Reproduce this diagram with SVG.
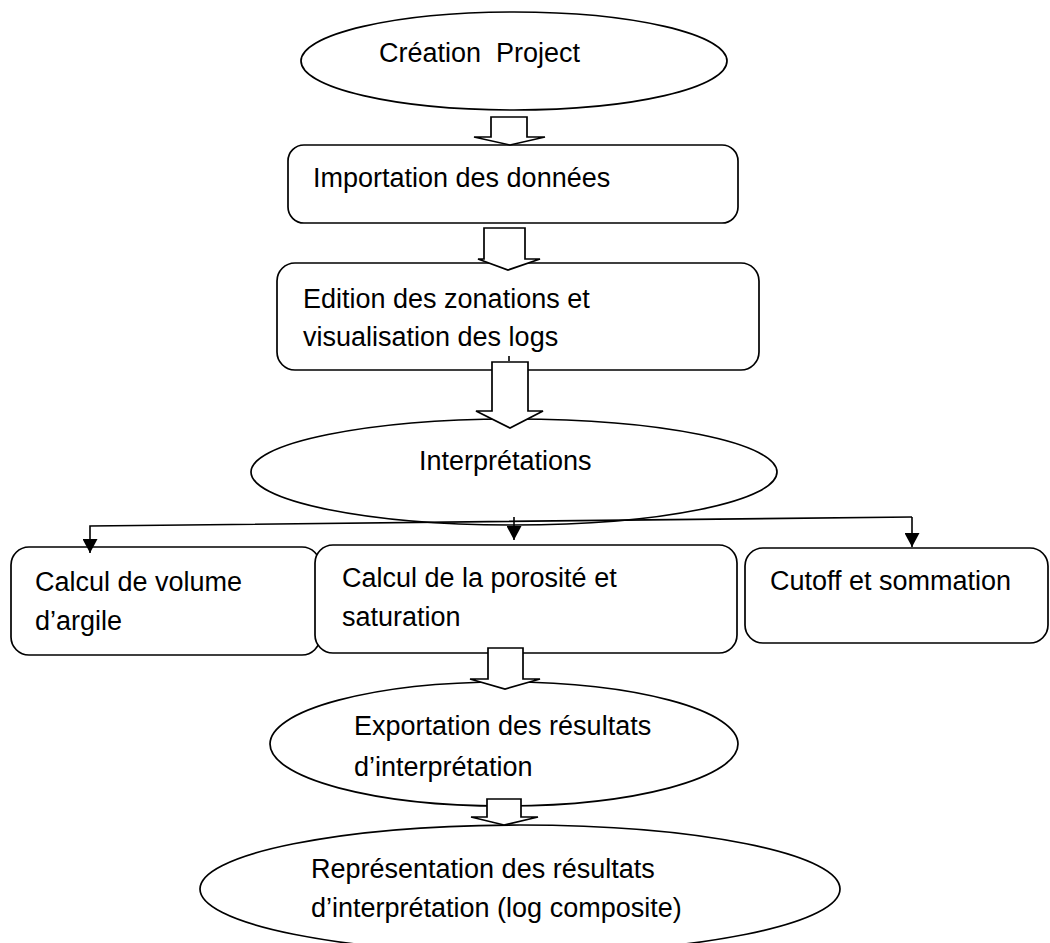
<svg xmlns="http://www.w3.org/2000/svg" width="1050" height="943" viewBox="0 0 1050 943">
<style>
.shape{fill:#fff;stroke:#000;stroke-width:1.7}
.blk{fill:#fff;stroke:#000;stroke-width:1.7;stroke-linejoin:miter}
.lbl{font-family:"Liberation Sans",Arial,sans-serif;font-size:27px;fill:#000;white-space:pre}
.con{fill:none;stroke:#000;stroke-width:1.6}
</style>
<defs>
<marker id="ah" viewBox="0 0 14 15" refX="14" refY="7.5" markerWidth="14" markerHeight="15" orient="auto" markerUnits="userSpaceOnUse">
<path d="M0,0 L14,7.5 L0,15 z" fill="#000"/>
</marker>
</defs>
<rect width="1050" height="943" fill="#fff"/>

<g id="n-creation">
<ellipse class="shape" cx="514" cy="61" rx="213" ry="49"/>
<text class="lbl" x="379" y="62">Création  Project</text>
</g>
<g id="n-importation">
<rect class="shape" x="288" y="145" width="450" height="78" rx="16"/>
<text class="lbl" x="313" y="187">Importation des données</text>
</g>
<g id="n-edition">
<rect class="shape" x="277" y="263" width="482" height="107" rx="18"/>
<text class="lbl" x="303" y="308">Edition des zonations et</text>
<text class="lbl" x="303" y="346">visualisation des logs</text>
</g>
<g id="n-interpretations">
<ellipse class="shape" cx="514" cy="472" rx="263" ry="53"/>
<text class="lbl" x="419" y="470">Interprétations</text>
</g>
<g id="n-volume">
<rect class="shape" x="11" y="547" width="309" height="108" rx="18"/>
<text class="lbl" x="35" y="591">Calcul de volume</text>
<text class="lbl" x="35" y="630">d’argile</text>
</g>
<g id="n-porosite">
<rect class="shape" x="315" y="545" width="422" height="108" rx="18"/>
<text class="lbl" x="342" y="587">Calcul de la porosité et</text>
<text class="lbl" x="342" y="626">saturation</text>
</g>
<g id="n-cutoff">
<rect class="shape" x="745" y="548" width="303" height="95" rx="18"/>
<text class="lbl" x="770" y="590">Cutoff et sommation</text>
</g>
<g id="n-exportation">
<ellipse class="shape" cx="504" cy="744" rx="234" ry="62"/>
<text class="lbl" x="354" y="735">Exportation des résultats</text>
<text class="lbl" x="354" y="776">d’interprétation</text>
</g>
<g id="n-representation">
<ellipse class="shape" cx="520" cy="889" rx="320" ry="64"/>
<text class="lbl" x="311" y="878">Représentation des résultats</text>
<text class="lbl" x="311" y="917">d’interprétation (log composite)</text>
</g>

<g id="connectors">
<polygon class="blk" points="491,117 527,117 527,137 545,137 510,145 474,137 491,137"/>
<polygon class="blk" points="484,228 525,228 525,259 540,259 508,270 478,259 484,259"/>
<polygon class="blk" points="492,362 528,362 528,411 543,411 510,428 476,411 492,411"/>
<line x1="509" y1="356" x2="509" y2="361" stroke="#000" stroke-width="1.6"/>
<polygon class="blk" points="488,648 523,648 523,679 540,679 505,689 470,679 488,679"/>
<polygon class="blk" points="487,799 521,799 521,817 538,817 504,825 471,817 487,817"/>
<path class="con" d="M912,517 L90,526 L90,553" marker-end="url(#ah)"/>
<path class="con" d="M514,517 L514,540" marker-end="url(#ah)"/>
<path class="con" d="M912,517 L912,547" marker-end="url(#ah)"/>
</g>
</svg>
